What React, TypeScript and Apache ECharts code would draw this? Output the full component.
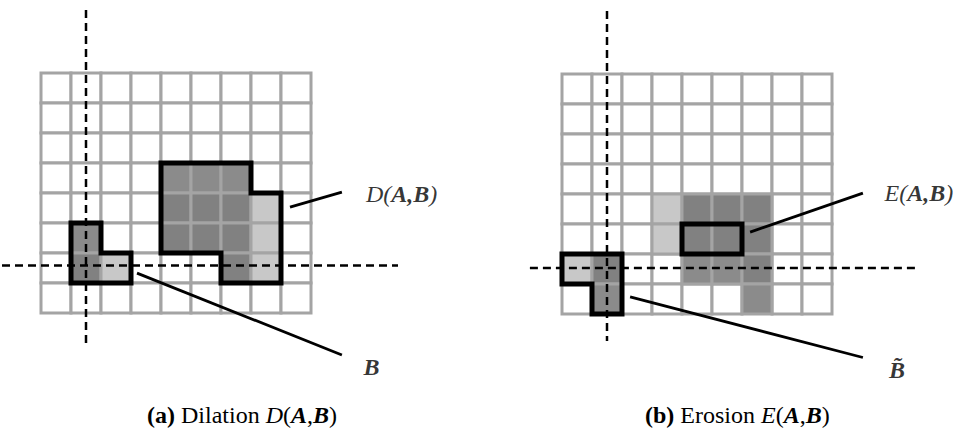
import React, { useEffect, useRef } from 'react';
import * as echarts from 'echarts';

// ---- grid size (cells) ----
const COLS = 9;
const ROWS = 8;

// ---- (a) Dilation panel cells [col,row] ----
const dilA = [[4, 4], [5, 4], [6, 4], [4, 5], [5, 5], [6, 5], [6, 6]];
const dilUp = [[4, 3], [5, 3], [6, 3]];
const dilRight = [[7, 4], [7, 5], [7, 6]];
const bDark = [[1, 6]];
const bDarkHatch = [[1, 5]];
const bLight = [[2, 6]];

// ---- (b) Erosion panel cells ----
const eroA = [[4, 4], [5, 4], [6, 4], [4, 5], [5, 5], [6, 5], [6, 6]];
const eroDarkHatch = [[4, 6], [5, 6], [6, 7]];
const eroLight = [[3, 4], [3, 5]];
const brDark = [[1, 6]];
const brDarkHatch = [[1, 7]];
const brLight = [[0, 6]];

// ---- outlines (cell-corner coordinates) ----
const dilOutline = [[4, 3], [7, 3], [7, 4], [8, 4], [8, 7], [6, 7], [6, 6], [4, 6]];
const bOutline = [[1, 5], [2, 5], [2, 6], [3, 6], [3, 7], [1, 7]];
const eroOutline = [[4, 5], [6, 5], [6, 6], [4, 6]];
const brOutline = [[0, 6], [2, 6], [2, 8], [1, 8], [1, 7], [0, 7]];

// ---- dashed axes through the origin of B ----
const dilVDash = [[1.5, -2.1], [1.5, 9.07]];
const dilHDash = [[-1.3, 6.42], [11.9, 6.42]];
const eroVDash = [[1.5, -2.1], [1.5, 8.9]];
const eroHDash = [[-1.07, 6.47], [11.93, 6.47]];

// ---- leader lines ----
const dilLeaderD = [[8.3, 4.47], [10.03, 3.97]];
const dilLeaderB = [[3.2, 6.67], [10.03, 9.4]];
const eroLeaderE = [[6.27, 5.27], [10.03, 3.97]];
const eroLeaderB = [[2.27, 7.43], [10.03, 9.45]];

// ---- label anchors ----
const dilLabels = [
  { pos: [10.83, 4.02], text: '{i|D}{i|(}{b|A}{b|,}{b|B}{i|)}' },
  { pos: [10.75, 9.8], text: '{b|B}' },
];
const eroLabels = [
  { pos: [10.75, 3.98], text: '{i|E}{i|(}{b|A}{b|,}{b|B}{i|)}' },
  { pos: [10.9, 9.85], text: '{b|B\u0303}' },
];

const FONT = 'Liberation Serif';
const FS = 24;
const FILLS: Record<string, string> = {
  w: '#ffffff',
  a: '#818181',
  h: '#8b8b8b',
  l: '#c8c8c8',
};
const GRID_STROKE = '#a4a4a4';

function buildCells(lists: [number[][], string][]) {
  const map = new Map<string, string>();
  lists.forEach(([cells, t]) => cells.forEach(([c, r]) => map.set(c + ',' + r, t)));
  const out: any[] = [];
  for (let r = 0; r < ROWS; r++) {
    for (let c = 0; c < COLS; c++) {
      const t = map.get(c + ',' + r) || 'w';
      out.push([c, r, t]);
    }
  }
  out.sort((a, b) => (a[2] === 'w' ? 0 : 1) - (b[2] === 'w' ? 0 : 1));
  return out;
}

const rich = {
  i: { fontFamily: FONT, fontSize: FS, fontStyle: 'italic', color: '#000' },
  b: { fontFamily: FONT, fontSize: FS, fontStyle: 'italic', fontWeight: 'bold', color: '#000' },
  n: { fontFamily: FONT, fontSize: FS, color: '#000' },
  bn: { fontFamily: FONT, fontSize: FS, fontWeight: 'bold', color: '#000' },
};

export default function App() {
  const ref = useRef<HTMLDivElement>(null);
  useEffect(() => {
    if (!ref.current) return;
    const chart = echarts.init(ref.current, undefined, { renderer: 'svg' });

    const cellSeries = (idx: number, data: any[]) => ({
      type: 'custom',
      xAxisIndex: idx,
      yAxisIndex: idx,
      silent: true,
      z: 1,
      data,
      renderItem: (p: any, api: any) => {
        const pt = api.coord([api.value(0), api.value(1)]);
        const s = api.size([1, 1]);
        const t = data[p.dataIndex][2];
        return {
          type: 'rect',
          shape: { x: pt[0], y: pt[1], width: Math.abs(s[0]), height: Math.abs(s[1]) },
          style: { fill: FILLS[t], stroke: GRID_STROKE, lineWidth: 3 },
        };
      },
    });

    const outlineSeries = (idx: number, pts: number[][]) => ({
      type: 'custom',
      xAxisIndex: idx,
      yAxisIndex: idx,
      silent: true,
      clip: false,
      z: 3,
      data: [[pts[0][0], pts[0][1]]],
      renderItem: (_p: any, api: any) => ({
        type: 'polygon',
        shape: { points: pts.map((pt) => api.coord(pt)) },
        style: { fill: 'none', stroke: '#000', lineWidth: 5, lineJoin: 'miter' },
      }),
    });

    const lineSeries = (idx: number, pts: number[][], dashed: boolean) => ({
      type: 'custom',
      xAxisIndex: idx,
      yAxisIndex: idx,
      silent: true,
      clip: false,
      z: dashed ? 5 : 4,
      data: [[pts[0][0], pts[0][1], pts[1][0], pts[1][1]]],
      renderItem: (_p: any, api: any) => {
        const a = api.coord([pts[0][0], pts[0][1]]);
        const b = api.coord([pts[1][0], pts[1][1]]);
        return {
          type: 'line',
          shape: { x1: a[0], y1: a[1], x2: b[0], y2: b[1] },
          style: {
            stroke: '#000',
            lineWidth: dashed ? 2.5 : 2.8,
            lineDash: dashed ? [8, 5] : null,
          },
        };
      },
    });

    const labelSeries = (idx: number, labels: { pos: number[]; text: string }[]) => ({
      type: 'scatter',
      xAxisIndex: idx,
      yAxisIndex: idx,
      silent: true,
      clip: false,
      symbolSize: 0,
      z: 6,
      data: labels.map((l) => ({ value: l.pos, text: l.text })),
      label: {
        show: true,
        position: 'right',
        distance: 0,
        color: '#000',
        fontFamily: FONT,
        fontSize: FS,
        formatter: (p: any) => p.data.text,
        rich,
      },
    });

    const axis = (n: number, inverse: boolean) => ({
      type: 'value',
      min: 0,
      max: n,
      interval: 1,
      inverse,
      show: false,
    });

    chart.setOption({
      animation: false,
      backgroundColor: '#ffffff',
      grid: [
        { left: 41, top: 73, width: 270, height: 240 },
        { left: 562, top: 74, width: 270, height: 240 },
      ],
      xAxis: [
        { ...axis(COLS, false), gridIndex: 0 },
        { ...axis(COLS, false), gridIndex: 1 },
      ],
      yAxis: [
        { ...axis(ROWS, true), gridIndex: 0 },
        { ...axis(ROWS, true), gridIndex: 1 },
      ],
      series: [
        cellSeries(0, buildCells([[dilA, 'a'], [dilUp, 'h'], [dilRight, 'l'], [bDark, 'a'], [bDarkHatch, 'h'], [bLight, 'l']])),
        cellSeries(1, buildCells([[eroA, 'a'], [eroDarkHatch, 'h'], [eroLight, 'l'], [brDark, 'a'], [brDarkHatch, 'h'], [brLight, 'l']])),
        outlineSeries(0, dilOutline),
        outlineSeries(0, bOutline),
        outlineSeries(1, eroOutline),
        outlineSeries(1, brOutline),
        lineSeries(0, dilVDash, true),
        lineSeries(0, dilHDash, true),
        lineSeries(1, eroVDash, true),
        lineSeries(1, eroHDash, true),
        lineSeries(0, dilLeaderD, false),
        lineSeries(0, dilLeaderB, false),
        lineSeries(1, eroLeaderE, false),
        lineSeries(1, eroLeaderB, false),
        labelSeries(0, dilLabels),
        labelSeries(1, eroLabels),
      ],
      graphic: [
        {
          type: 'text',
          left: 147,
          top: 403,
          style: {
            text: '{bn|(a)}{n| Dilation }{i|D}{n|(}{b|A}{n|,}{b|B}{n|)}',
            rich,
            fontFamily: FONT,
            fontSize: FS,
            fill: '#000',
          },
        },
        {
          type: 'text',
          left: 645,
          top: 403,
          style: {
            text: '{bn|(b)}{n| Erosion }{i|E}{n|(}{b|A}{n|,}{b|B}{n|)}',
            rich,
            fontFamily: FONT,
            fontSize: FS,
            fill: '#000',
          },
        },
      ],
    });
    return () => chart.dispose();
  }, []);
  return (
    <div
      ref={ref}
      style={{ position: 'fixed', left: 0, top: 0, width: 968, height: 443, background: '#fff' }}
    />
  );
}
